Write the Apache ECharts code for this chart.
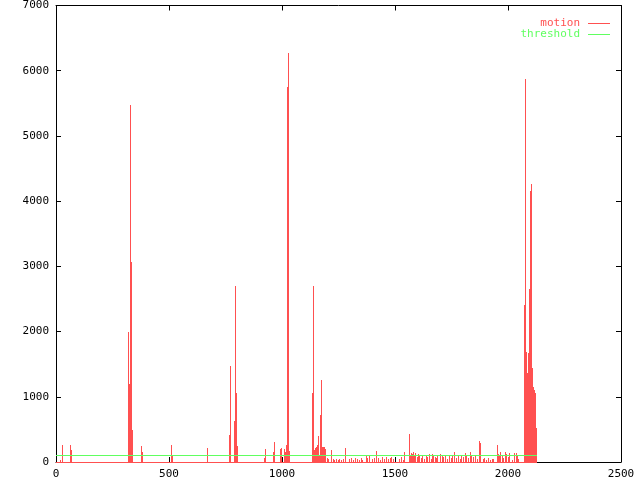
<!DOCTYPE html>
<html>
<head>
<meta charset="utf-8">
<script src="https://cdn.jsdelivr.net/npm/echarts@6/dist/echarts.min.js"></script>
<style>html,body{margin:0;padding:0;background:#fff}#c{width:640px;height:480px}</style>
</head>
<body>
<div id="c"></div>
<script>
// frames are 0 .. frameCount-1; frames not listed have motion 0
const frameCount = 2128;
const motionFrames = [
  18, 28, 66, 68,
  321, 325, 330, 334, 338,
  378, 383, 510, 514, 671,
  768, 772, 790, 794, 799, 803,
  923, 927, 962, 967,
  993, 998, 1011, 1015, 1020, 1024, 1029, 1033,
  1135, 1139, 1144, 1148, 1153, 1157, 1161, 1166, 1170, 1175, 1179, 1184, 1188, 1193,
  1200, 1204, 1217, 1221, 1226, 1232, 1240, 1248, 1256, 1264, 1272, 1283,
  1300, 1308, 1316, 1325, 1334, 1342, 1350, 1358, 1374, 1380, 1387,
  1402, 1410, 1420, 1428, 1436, 1445, 1453, 1462, 1470, 1478, 1486, 1494,
  1520, 1530, 1538, 1544, 1562, 1567, 1572, 1577, 1582, 1587, 1592, 1598, 1603, 1609,
  1616, 1623, 1630, 1638, 1645, 1652, 1660, 1666, 1672, 1677,
  1684, 1690, 1700, 1708, 1716, 1724, 1732, 1740, 1748, 1755, 1764,
  1772, 1780, 1788, 1796, 1804, 1812, 1818, 1826, 1834, 1840, 1848, 1856, 1863,
  1875, 1880, 1890, 1898, 1906, 1914, 1922, 1930, 1938, 1952,
  1957, 1962, 1968, 1975, 1982, 1988, 1995, 2002, 2008,
  2020, 2030, 2038, 2042, 2048,
  2073, 2077, 2082, 2086, 2091, 2095, 2100, 2104, 2108, 2113, 2117, 2122, 2126
];
const motionValues = [
  30, 265, 265, 190,
  2000, 1200, 5470, 3070, 490,
  245, 150, 260, 90, 215,
  420, 1474, 630, 2692, 1057, 250,
  66, 200, 154, 307,
  200, 215, 200, 150, 260, 5750, 6270, 170,
  1064, 2700, 190, 210, 230, 260, 400, 100, 720, 1260, 235, 230, 235, 200,
  60, 40, 184, 92, 40, 30, 50, 25, 45, 35, 50, 215,
  40, 55, 30, 60, 45, 35, 60, 25, 100, 60, 110,
  40, 55, 169, 60, 35, 70, 50, 75, 40, 65, 80, 50,
  40, 70, 30, 159, 430, 100, 140, 120, 150, 110, 135, 80, 125, 90,
  60, 90, 50, 100, 70, 120, 45, 123, 110, 80,
  60, 100, 123, 90, 70, 110, 40, 85, 60, 100, 148,
  60, 90, 40, 110, 70, 143, 100, 60, 160, 90, 70, 110, 50,
  322, 287, 40, 55, 30, 60, 35, 50, 45, 266,
  130, 100, 150, 90, 60, 159, 120, 70, 140,
  30, 143, 133, 107, 40,
  2400, 5870, 1690, 1360, 1670, 2660, 4150, 4270, 1440, 1155, 1105, 1064, 517
];
const thresholdValue = 100;
const xTicks = [0, 500, 1000, 1500, 2000, 2500];
const yTicks = [0, 1000, 2000, 3000, 4000, 5000, 6000, 7000];

const RED = '#ff5050';
const GREEN = '#60ff60';
const FONT = 'DejaVu Sans Mono';

const lookup = {};
motionFrames.forEach((f, i) => { lookup[f] = motionValues[i]; });
const motionData = [];
for (let f = 0; f < frameCount; f++) motionData.push([f, lookup[f] || 0]);
const thresholdData = [[0, frameCount, thresholdValue]];

const chart = echarts.init(document.getElementById('c'), null, {renderer: 'canvas', devicePixelRatio: 1});
const axisCommon = {
  type: 'value',
  axisLine: {show: true, onZero: false, lineStyle: {color: '#000', width: 1}},
  axisTick: {show: true, inside: true, length: 5, lineStyle: {color: '#000'}},
  splitLine: {show: false},
};
const plain = v => String(v);
chart.setOption({
  animation: false,
  backgroundColor: '#fff',
  grid: {left: 56, right: 19, top: 5, bottom: 18, containLabel: false},
  legend: {
    orient: 'vertical', right: 30, top: 18, align: 'right', padding: 0,
    itemWidth: 22, itemHeight: 1, itemGap: 0,
    icon: 'rect',
    textStyle: {fontFamily: FONT, fontSize: 11, lineHeight: 11, padding: [0, 3, 0, 0]},
    data: [
      {name: 'motion', textStyle: {color: RED}},
      {name: 'threshold', textStyle: {color: GREEN}}
    ]
  },
  xAxis: [
    Object.assign({}, axisCommon, {
      position: 'bottom', min: xTicks[0], max: xTicks[xTicks.length - 1], interval: 500,
      axisLabel: {fontFamily: FONT, fontSize: 11, color: '#000', margin: 7, formatter: plain}
    }),
    Object.assign({}, axisCommon, {
      position: 'top', min: xTicks[0], max: xTicks[xTicks.length - 1], interval: 500,
      axisLabel: {show: false}
    })
  ],
  yAxis: [
    Object.assign({}, axisCommon, {
      position: 'left', min: yTicks[0], max: yTicks[yTicks.length - 1], interval: 1000,
      axisLabel: {fontFamily: FONT, fontSize: 11, color: '#000', margin: 7, formatter: plain}
    }),
    Object.assign({}, axisCommon, {
      position: 'right', min: yTicks[0], max: yTicks[yTicks.length - 1], interval: 1000,
      axisLabel: {show: false}
    })
  ],
  series: [
    {
      name: 'motion', type: 'custom', xAxisIndex: 0, yAxisIndex: 0,
      itemStyle: {color: RED},
      data: motionData,
      encode: {x: 0, y: 1},
      renderItem: function (params, api) {
        const x = api.value(0), y = api.value(1);
        const p0 = api.coord([x, 0]);
        const p1 = api.coord([x, y]);
        const px = Math.floor(p0[0]);
        const bottom = Math.round(p0[1]);
        const top = Math.min(Math.round(p1[1]), bottom);
        return {
          type: 'rect',
          shape: {x: px, y: top, width: 1, height: bottom - top + 1},
          style: {fill: RED}
        };
      }
    },
    {
      name: 'threshold', type: 'custom', xAxisIndex: 0, yAxisIndex: 0, z: 3,
      itemStyle: {color: GREEN},
      data: thresholdData,
      encode: {x: [0, 1], y: 2},
      renderItem: function (params, api) {
        const a = api.coord([api.value(0), api.value(2)]);
        const b = api.coord([api.value(1), api.value(2)]);
        const y = Math.floor(a[1]);
        return {
          type: 'rect',
          shape: {x: Math.floor(a[0]), y: y, width: Math.round(b[0] - a[0]), height: 1},
          style: {fill: GREEN}
        };
      }
    }
  ]
});
</script>
</body>
</html>
